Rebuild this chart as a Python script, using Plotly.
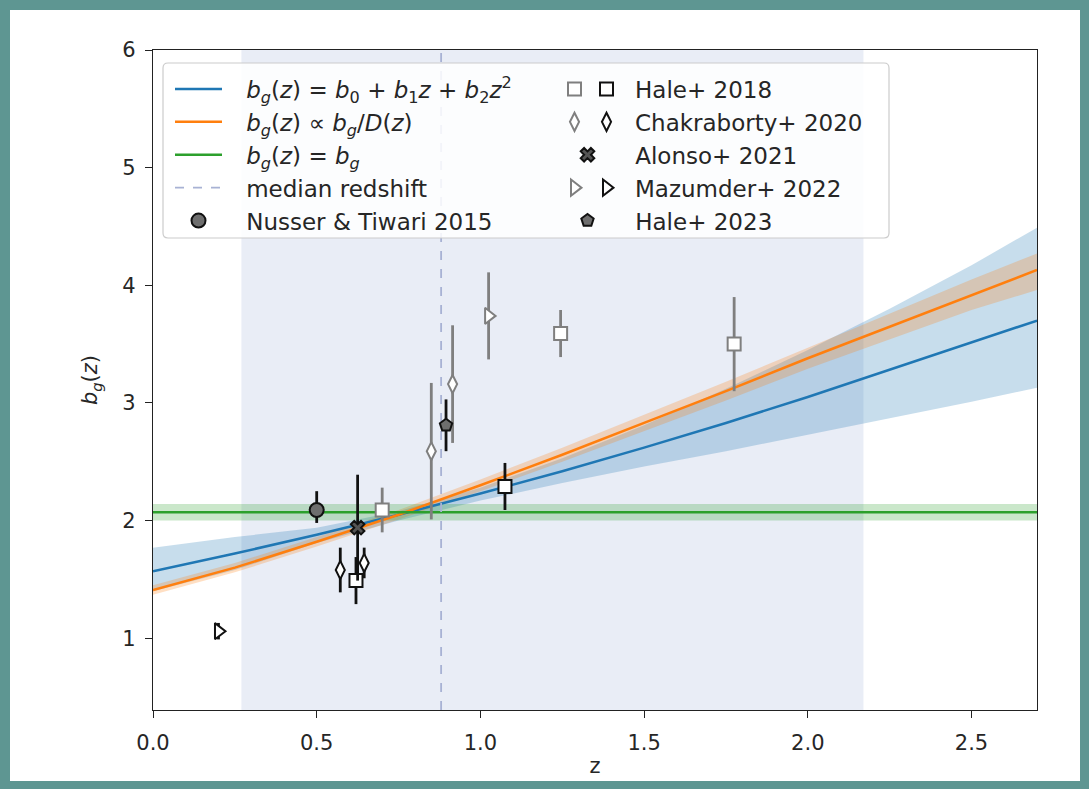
import plotly.graph_objects as go

# ---------------- data ----------------
z_grid = [0.0, 0.25, 0.5, 0.75, 1.0, 1.25, 1.5, 1.75, 2.0, 2.25, 2.5, 2.7]

quad_mid = [1.57, 1.72, 1.88, 2.05, 2.23, 2.42, 2.62, 2.83, 3.05, 3.28, 3.51, 3.70]
quad_hi = [1.77, 1.86, 1.94, 2.08, 2.28, 2.53, 2.81, 3.12, 3.45, 3.80, 4.17, 4.49]
quad_lo = [1.40, 1.58, 1.81, 2.00, 2.17, 2.32, 2.46, 2.59, 2.73, 2.87, 3.01, 3.13]

growth_mid = [1.41, 1.60, 1.82, 2.05, 2.30, 2.56, 2.83, 3.10, 3.38, 3.65, 3.92, 4.13]
growth_hi = [1.45, 1.64, 1.86, 2.09, 2.35, 2.62, 2.90, 3.18, 3.47, 3.76, 4.05, 4.27]
growth_lo = [1.37, 1.56, 1.78, 2.01, 2.25, 2.50, 2.76, 3.02, 3.29, 3.54, 3.79, 3.96]

const_z = [0.0, 2.7]
const_mid = [2.07, 2.07]
const_hi = [2.14, 2.14]
const_lo = [2.00, 2.00]

median_z = 0.88
span_z = [0.27, 2.17]

hale18_gray_z = [0.70, 1.245, 1.775]
hale18_gray_b = [2.09, 3.59, 3.50]
hale18_gray_e = [0.19, 0.20, 0.40]
hale18_black_z = [0.62, 1.075]
hale18_black_b = [1.49, 2.29]
hale18_black_e = [0.20, 0.20]

chak_gray_z = [0.85, 0.915]
chak_gray_b = [2.59, 3.16]
chak_gray_e = [0.58, 0.50]
chak_black_z = [0.572, 0.645]
chak_black_b = [1.58, 1.64]
chak_black_e = [0.19, 0.13]

alonso_z = [0.625]
alonso_b = [1.94]
alonso_e = [0.45]

maz_gray_z = [1.025]
maz_gray_b = [3.74]
maz_gray_e = [0.37]
maz_black_z = [0.20]
maz_black_b = [1.06]
maz_black_e = [0.07]

hale23_z = [0.895]
hale23_b = [2.81]
hale23_e = [0.22]

nusser_z = [0.50]
nusser_b = [2.09]
nusser_ep = [0.16]
nusser_em = [0.11]

x_ticks = [0.0, 0.5, 1.0, 1.5, 2.0, 2.5]
y_ticks = [1, 2, 3, 4, 5, 6]
x_range = [0.0, 2.7]
y_range = [0.39, 6.0]

# ---------------- styling ----------------
BLUE = "#1f77b4"
ORANGE = "#ff7f0e"
GREEN = "#2ca02c"
GRAY = "#7f7f7f"
BLACK = "#111111"
FONT = "DejaVu Sans"
TEAL = "#5e9692"
LEG_FS = 23
PAD = "\u00a0\u00a0\u2009"

fig = go.Figure()


def band(x, hi, lo, color):
    fig.add_trace(go.Scatter(
        x=list(x) + list(x)[::-1], y=list(hi) + list(lo)[::-1],
        fill="toself", fillcolor=color, line=dict(width=0),
        mode="lines", hoverinfo="skip", showlegend=False))


band(z_grid, quad_hi, quad_lo, "rgba(31,119,180,0.25)")
band(z_grid, growth_hi, growth_lo, "rgba(255,127,14,0.25)")
band(const_z, const_hi, const_lo, "rgba(44,160,44,0.25)")

fig.add_trace(go.Scatter(
    x=z_grid, y=quad_mid, mode="lines", line=dict(color=BLUE, width=2.5),
    name=PAD + "<i>b</i><sub><i>g</i></sub>(<i>z</i>) = <i>b</i><sub>0</sub> + <i>b</i><sub>1</sub><i>z</i> + <i>b</i><sub>2</sub><i>z</i><sup>2</sup>",
    legend="legend", legendrank=1))
fig.add_trace(go.Scatter(
    x=z_grid, y=growth_mid, mode="lines", line=dict(color=ORANGE, width=2.5),
    name=PAD + "<i>b</i><sub><i>g</i></sub>(<i>z</i>) ∝ <i>b</i><sub><i>g</i></sub>/<i>D</i>(<i>z</i>)",
    legend="legend", legendrank=2))
fig.add_trace(go.Scatter(
    x=const_z, y=const_mid, mode="lines", line=dict(color=GREEN, width=2.5),
    name=PAD + "<i>b</i><sub><i>g</i></sub>(<i>z</i>) = <i>b</i><sub><i>g</i></sub>",
    legend="legend", legendrank=3))
fig.add_trace(go.Scatter(
    x=[median_z, median_z], y=y_range, mode="lines",
    line=dict(color="rgb(168,178,212)", width=1.8, dash="dash"),
    name=PAD + "median redshift", legend="legend", legendrank=4))


def points(x, y, e, sym, size, fill, edge, ecol, name="\u00a0", legend="legend2",
           rank=100, eminus=None):
    err = dict(type="data", array=e, color=ecol, thickness=2.8, width=0, visible=True)
    if eminus is not None:
        err["symmetric"] = False
        err["arrayminus"] = eminus
    fig.add_trace(go.Scatter(
        x=x, y=y, mode="markers",
        marker=dict(symbol=sym, size=size, color=fill, line=dict(color=edge, width=2)),
        error_y=err, name=name, showlegend=True, legend=legend, legendrank=rank))


points(nusser_z, nusser_b, nusser_ep, "circle", 14, "#6e6e6e", BLACK, BLACK,
       name=PAD + "Nusser &amp; Tiwari 2015", legend="legend", rank=5, eminus=nusser_em)

points(hale18_gray_z, hale18_gray_b, hale18_gray_e, "square", 13, "white", GRAY, GRAY,
       legend="legend3", rank=21)
points(hale18_black_z, hale18_black_b, hale18_black_e, "square", 13, "white", BLACK, BLACK,
       name="Hale+ 2018", legend="legend2", rank=11)
points(chak_gray_z, chak_gray_b, chak_gray_e, "diamond-tall", 13, "white", GRAY, GRAY,
       legend="legend3", rank=22)
points(chak_black_z, chak_black_b, chak_black_e, "diamond-tall", 13, "white", BLACK, BLACK,
       name="Chakraborty+ 2020", legend="legend2", rank=12)
points(alonso_z, alonso_b, alonso_e, "x", 12, "#555555", BLACK, BLACK,
       name=PAD + "Alonso+ 2021", legend="legend5", rank=13)
points(maz_gray_z, maz_gray_b, maz_gray_e, "triangle-right", 14, "white", GRAY, GRAY,
       legend="legend4", rank=31)
points(maz_black_z, maz_black_b, maz_black_e, "triangle-right", 14, "white", BLACK, BLACK,
       name="Mazumder+ 2022", legend="legend6", rank=14)
points(hale23_z, hale23_b, hale23_e, "pentagon", 13, "#6e6e6e", BLACK, BLACK,
       name=PAD + "Hale+ 2023", legend="legend7", rank=15)

# ---------------- layout ----------------
W, H = 1089, 789
ML, MR, MT, MB = 153, 52, 50, 79
PW, PH = W - ML - MR, H - MT - MB


def px_x(p):
    return (p - ML) / PW


def px_y(p):
    return (H - MB - p) / PH


shapes = [
    dict(type="rect", xref="paper", yref="paper", layer="below",
         x0=px_x(10), x1=px_x(1080), y0=px_y(781), y1=px_y(10),
         fillcolor="white", line=dict(width=0)),
    dict(type="rect", xref="x", yref="paper", layer="below",
         x0=span_z[0], x1=span_z[1], y0=0, y1=1,
         fillcolor="rgba(176,192,222,0.28)", line=dict(width=0)),
]

lx0, lx1, ly0, ly1 = px_x(163), px_x(889), px_y(238), px_y(63)
rx, ry = 5 / PW, 5 / PH
path = (f"M {lx0+rx},{ly1} L {lx1-rx},{ly1} Q {lx1},{ly1} {lx1},{ly1-ry} "
        f"L {lx1},{ly0+ry} Q {lx1},{ly0} {lx1-rx},{ly0} L {lx0+rx},{ly0} "
        f"Q {lx0},{ly0} {lx0},{ly0+ry} L {lx0},{ly1-ry} Q {lx0},{ly1} {lx0+rx},{ly1} Z")
shapes.append(dict(type="path", xref="paper", yref="paper", layer="above", path=path,
                   fillcolor="rgba(255,255,255,0.85)",
                   line=dict(color="rgb(204,204,204)", width=1.2)))

axis_common = dict(showline=True, linecolor="#222", linewidth=1.2, mirror=True,
                   ticks="outside", ticklen=7, tickwidth=1.2, tickcolor="#222",
                   showgrid=False, zeroline=False, automargin=False,
                   tickfont=dict(family=FONT, size=21, color="#262626"))

leg_common = dict(xanchor="left", yanchor="top", bgcolor="rgba(0,0,0,0)",
                  borderwidth=0, itemwidth=47, tracegroupgap=0, traceorder="normal",
                  font=dict(family=FONT, size=LEG_FS, color="#262626"))
ROW = LEG_FS * 1.3 + 3
TOP = 67.5
X_BLACK, X_GRAY, X_SINGLE = 578, 546, 559

fig.update_layout(
    width=W, height=H,
    margin=dict(l=ML, r=MR, t=MT, b=MB, pad=0, autoexpand=False),
    paper_bgcolor=TEAL, plot_bgcolor="white",
    shapes=shapes,
    font=dict(family=FONT, color="#262626"),
    xaxis=dict(range=x_range, tickvals=x_ticks, tickformat=".1f", ticklabelstandoff=7,
               title=dict(text="z", font=dict(family=FONT, size=21), standoff=4),
               **axis_common),
    yaxis=dict(range=y_range, tickvals=y_ticks, ticklabelstandoff=5,
               title=dict(text="<i>b</i><sub><i>g</i></sub>(<i>z</i>)",
                          font=dict(family=FONT, size=21), standoff=18),
               **axis_common),
    legend=dict(x=px_x(170), y=px_y(TOP), **leg_common),
    legend2=dict(x=px_x(X_BLACK), y=px_y(TOP), **leg_common),
    legend3=dict(x=px_x(X_GRAY), y=px_y(TOP), **leg_common),
    legend4=dict(x=px_x(X_GRAY), y=px_y(TOP + 3 * ROW), **leg_common),
    legend5=dict(x=px_x(X_SINGLE), y=px_y(TOP + 2 * ROW), **leg_common),
    legend6=dict(x=px_x(X_BLACK), y=px_y(TOP + 3 * ROW), **leg_common),
    legend7=dict(x=px_x(X_SINGLE), y=px_y(TOP + 4 * ROW), **leg_common),
)

fig.write_html("out.html")
